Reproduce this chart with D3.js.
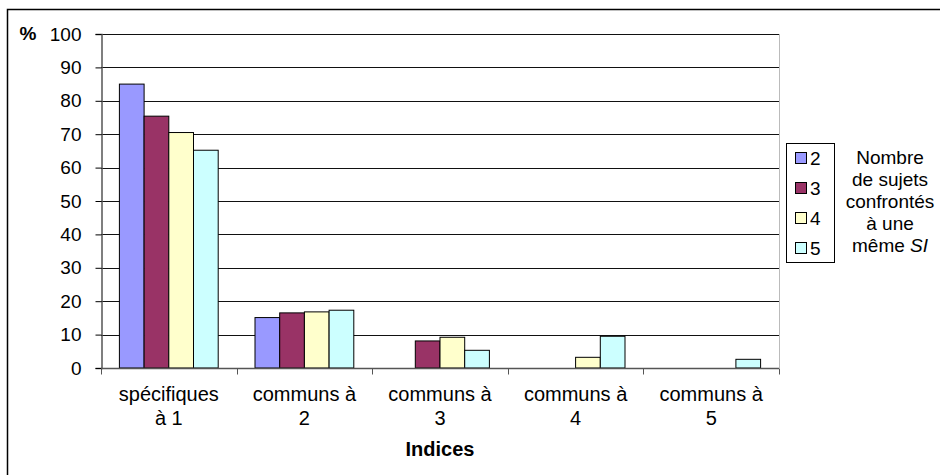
<!DOCTYPE html>
<html><head><meta charset="utf-8">
<script src="https://cdn.jsdelivr.net/npm/d3@7"></script>
<style>body{margin:0;background:#fff}svg{display:block;font-family:Arial,"Liberation Sans",sans-serif}</style>
</head><body><svg id="c" width="940" height="475"></svg>
<script>
const categories = [["spécifiques","à 1"],["communs à","2"],["communs à","3"],["communs à","4"],["communs à","5"]];
const seriesNames = ["2","3","4","5"];
const s2 = [85, 15.1, 0, 0, 0];
const s3 = [75.4, 16.5, 8.1, 0, 0];
const s4 = [70.5, 16.8, 9.2, 3.2, 0];
const s5 = [65.2, 17.3, 5.3, 9.5, 2.6];
const yTicks = [0,10,20,30,40,50,60,70,80,90,100];
const colors = ["#9999ff","#993366","#ffffcc","#ccffff"];
const series = [s2,s3,s4,s5];

const svg = d3.select("#c");
svg.append("rect").attr("x",7.5).attr("y",9.5).attr("width",940).attr("height",470)
  .attr("fill","#fff").attr("stroke","#000").attr("stroke-width",1.5);

const L=101, R=779, T=34, B=368;
const x = d3.scaleBand().domain(d3.range(categories.length)).range([L,R]).paddingInner(0).paddingOuter(0);
const y = d3.scaleLinear().domain([0,100]).range([B,T]);
const inner = d3.scaleBand().domain(d3.range(series.length)).range([0,x.bandwidth()]).paddingOuter(0.745).paddingInner(0);

// gridlines
svg.append("g").selectAll("line").data(yTicks.filter(d=>d>0)).join("line")
  .attr("x1",L).attr("x2",R).attr("y1",d=>Math.round(y(d))+0.5).attr("y2",d=>Math.round(y(d))+0.5)
  .attr("stroke","#111").attr("stroke-width",1);
// right plot border
svg.append("line").attr("x1",R+0.5).attr("x2",R+0.5).attr("y1",T).attr("y2",B).attr("stroke","#bbb");

// bars
series.forEach((s,i)=>{
  svg.append("g").selectAll("rect").data(s).join("rect")
    .attr("x",(d,j)=>x(j)+inner(i))
    .attr("y",d=>y(d))
    .attr("width",inner.bandwidth())
    .attr("height",d=>B-y(d))
    .attr("fill",colors[i]).attr("stroke",d=>d>0?"#000":"none").attr("stroke-width",1);
});

// y axis
const ya = svg.append("g").attr("transform",`translate(${L+0.5},0)`)
  .call(d3.axisLeft(y).tickValues(yTicks).tickSize(6).tickPadding(14));
ya.select(".domain").attr("stroke","#555").attr("stroke-width",1.5);
ya.selectAll(".tick line").attr("stroke","#000");
ya.selectAll("text").attr("font-size",19).attr("fill","#000").attr("font-family","Arial, 'Liberation Sans', sans-serif");

// x axis
const xa = svg.append("g").attr("transform",`translate(0,${B+0.5})`);
xa.append("line").attr("x1",L).attr("x2",R).attr("stroke","#555").attr("stroke-width",1.5);
xa.selectAll("line.t").data(d3.range(categories.length+1)).join("line").attr("class","t")
  .attr("x1",d=>Math.round(L+d*x.bandwidth())+0.5).attr("x2",d=>Math.round(L+d*x.bandwidth())+0.5)
  .attr("y1",0).attr("y2",6).attr("stroke","#555");
categories.forEach((c,j)=>{
  const t = svg.append("text").attr("x",x(j)+x.bandwidth()/2).attr("text-anchor","middle")
    .attr("font-size",20).attr("fill","#000");
  t.append("tspan").attr("x",x(j)+x.bandwidth()/2).attr("y",401).text(c[0]);
  t.append("tspan").attr("x",x(j)+x.bandwidth()/2).attr("y",425).text(c[1]);
});
svg.append("text").attr("x",(L+R)/2).attr("y",456).attr("text-anchor","middle")
  .attr("font-size",20).attr("font-weight","bold").text("Indices");
svg.append("text").attr("x",28).attr("y",40).attr("text-anchor","middle")
  .attr("font-size",19).attr("font-weight","bold").text("%");

// legend
svg.append("rect").attr("x",786.5).attr("y",143.5).attr("width",48).attr("height",119)
  .attr("fill","#fff").attr("stroke","#000");
seriesNames.forEach((n,i)=>{
  const yy = 158 + i*30;
  svg.append("rect").attr("x",795.5).attr("y",yy-5.5).attr("width",11).attr("height",11)
    .attr("fill",colors[i]).attr("stroke","#000");
  svg.append("text").attr("x",810).attr("y",yy+7).attr("font-size",19).text(n);
});
const lt = ["Nombre","de sujets","confrontés","à une"];
lt.forEach((s,i)=>{
  svg.append("text").attr("x",890).attr("y",164+i*22).attr("text-anchor","middle").attr("font-size",19).text(s);
});
const last = svg.append("text").attr("x",890).attr("y",164+4*22).attr("text-anchor","middle").attr("font-size",19);
last.append("tspan").text("même ");
last.append("tspan").attr("font-style","italic").text("SI");
</script></body></html>
